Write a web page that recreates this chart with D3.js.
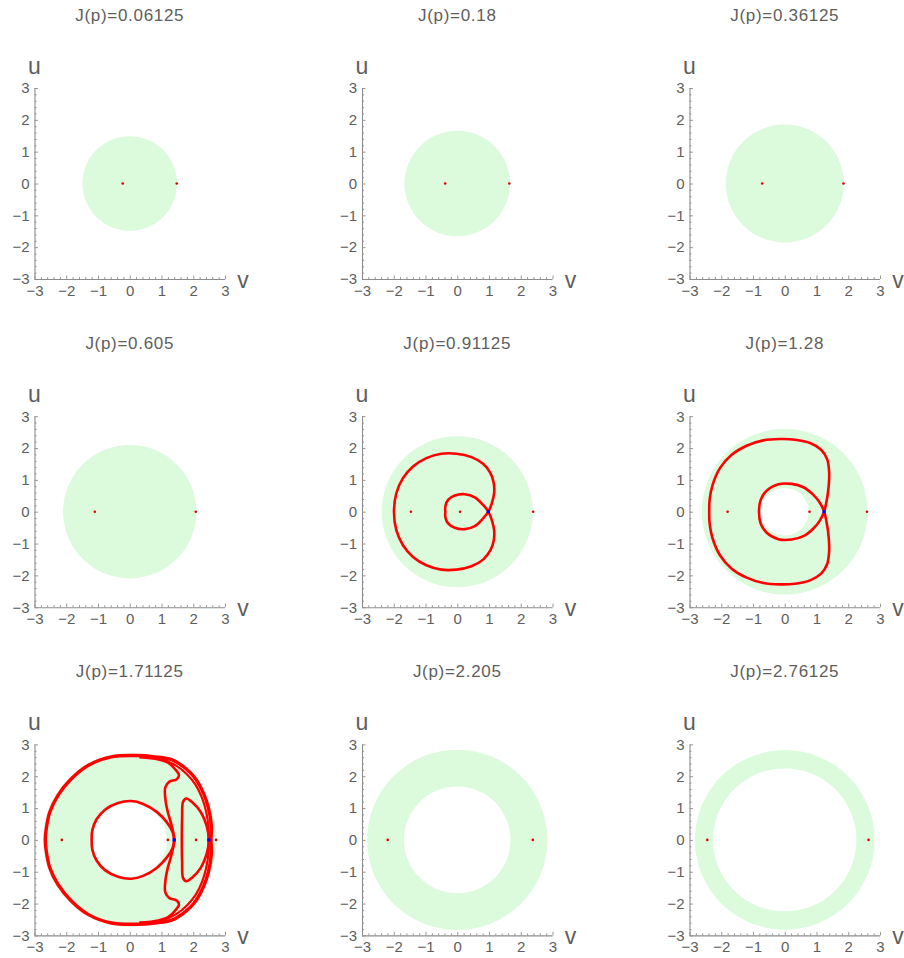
<!DOCTYPE html>
<html>
<head>
<meta charset="utf-8">
<script src="https://cdn.jsdelivr.net/npm/d3@7"></script>
<style>
  html, body { margin: 0; padding: 0; background: #fff; }
  svg { display: block; }
  .tick text { font-family: "Liberation Sans", Arial, sans-serif; font-size: 15px; fill: #5e5e5e; }
  .title { font-family: "Liberation Sans", Arial, sans-serif; font-size: 17px; fill: #5e5e5e; letter-spacing: 0.7px; }
  .axlab { font-family: "Liberation Sans", Arial, sans-serif; font-size: 23px; fill: #5e5e5e; }
</style>
</head>
<body>
<svg id="chart" width="904" height="958"></svg>
<script>
// J(p) value of each panel, in reading order
const jValues = [0.06125, 0.18, 0.36125, 0.605, 0.91125, 1.28, 1.71125, 2.205, 2.76125];

// allowed region: annulus radii in the (v,u) plane
const outerRadius = [1.49, 1.66, 1.86, 2.10, 2.38, 2.61, 2.74, 2.84, 2.83];
const innerRadius = [0, 0, 0, 0, 0, 0.75, 1.17, 1.68, 2.25];

// equilibrium points on the u = 0 axis
const redPoints = [
  [-0.22, 1.48], [-0.38, 1.64], [-0.71, 1.85],
  [-1.10, 2.08], [-1.46, 0.09, 2.39], [-1.80, 0.78, 2.59],
  [-2.14, 1.20, 2.09, 2.72], [-2.19, 2.38], [-2.44, 2.64]
];
const bluePoints = [[], [], [], [], [0.98], [1.24], [1.40, 2.49], [], []];

// separatrix for J(p)=0.91125: node, outer loop, node, inner loop
const loopJ091 = [
  [0.98, 0],
  [1.088, 0.264], [1.162, 0.58], [1.151, 0.895], [1.046, 1.21], [0.815, 1.505], [0.447, 1.715],
  [-0.026, 1.82], [-0.5, 1.82], [-0.973, 1.683], [-1.393, 1.42], [-1.709, 1.053], [-1.919, 0.58],
  [-1.993, 0],
  [-1.919, -0.58], [-1.709, -1.053], [-1.393, -1.42], [-0.973, -1.683], [-0.5, -1.82], [-0.026, -1.82],
  [0.447, -1.715], [0.815, -1.505], [1.046, -1.21], [1.151, -0.895], [1.162, -0.58], [1.088, -0.264],
  [0.98, 0],
  [0.815, 0.211], [0.552, 0.453], [0.237, 0.548], [-0.079, 0.506], [-0.289, 0.369], [-0.373, 0.18],
  [-0.377, 0],
  [-0.373, -0.18], [-0.289, -0.369], [-0.079, -0.506], [0.237, -0.548], [0.552, -0.453], [0.815, -0.211]
];

// separatrix for J(p)=1.28
const loopJ128 = [
  [1.24, 0],
  [1.334, 0.422], [1.387, 0.842], [1.397, 1.263], [1.334, 1.652], [1.145, 1.946], [0.798, 2.157],
  [0.325, 2.262], [-0.148, 2.283], [-0.674, 2.241], [-1.2, 2.073], [-1.673, 1.789], [-2.041, 1.368],
  [-2.272, 0.842], [-2.367, 0.369],
  [-2.378, 0],
  [-2.367, -0.369], [-2.272, -0.842], [-2.041, -1.368], [-1.673, -1.789], [-1.2, -2.073], [-0.674, -2.241],
  [-0.148, -2.283], [0.325, -2.262], [0.798, -2.157], [1.145, -1.946], [1.334, -1.652], [1.397, -1.263],
  [1.387, -0.842], [1.334, -0.422],
  [1.24, 0],
  [1.114, 0.264], [0.903, 0.527], [0.588, 0.769], [0.22, 0.874], [-0.201, 0.863], [-0.569, 0.663],
  [-0.758, 0.369],
  [-0.811, 0],
  [-0.758, -0.369], [-0.569, -0.663], [-0.201, -0.863], [0.22, -0.874], [0.588, -0.769], [0.903, -0.527],
  [1.114, -0.264]
];

// separatrices for J(p)=1.71125
const outerJ171 = [
  [2.56, 0], [2.57, 0.45], [2.48, 1.0], [2.32, 1.47], [2.06, 1.94], [1.745, 2.26], [1.32, 2.52],
  [0.8, 2.61], [0.2, 2.65], [-0.58, 2.61], [-1.315, 2.34], [-1.84, 1.92], [-2.26, 1.4], [-2.52, 0.87],
  [-2.63, 0.35], [-2.66, 0],
  [-2.63, -0.35], [-2.52, -0.87], [-2.26, -1.4], [-1.84, -1.92], [-1.315, -2.34], [-0.58, -2.61],
  [0.2, -2.65], [0.8, -2.61], [1.32, -2.52], [1.745, -2.26], [2.06, -1.94], [2.32, -1.47], [2.48, -1.0],
  [2.57, -0.45]
];
const wavyJ171 = [
  [0.3, 2.6], [0.9, 2.53], [1.22, 2.42], [1.43, 2.22], [1.55, 2.03], [1.47, 1.9], [1.25, 1.83],
  [1.12, 1.65], [1.12, 1.3], [1.2, 0.87], [1.32, 0.45], [1.4, 0],
  [1.32, -0.45], [1.2, -0.87], [1.12, -1.3], [1.12, -1.65], [1.25, -1.83], [1.47, -1.9], [1.55, -2.03],
  [1.43, -2.22], [1.22, -2.42], [0.9, -2.53], [0.3, -2.6]
];
const bandJ171 = [
  [1.0, 2.55], [1.45, 2.34], [1.8, 2.06], [2.08, 1.72], [2.28, 1.31], [2.41, 0.87], [2.48, 0.42], [2.49, 0],
  [2.48, -0.42], [2.41, -0.87], [2.28, -1.31], [2.08, -1.72], [1.8, -2.06], [1.45, -2.34], [1.0, -2.55]
];
const crescentJ171 = [
  [2.49, 0], [2.42, 0.45], [2.24, 0.87], [1.97, 1.18], [1.78, 1.3], [1.68, 1.2], [1.65, 0.7], [1.64, 0],
  [1.65, -0.7], [1.68, -1.2], [1.78, -1.3], [1.97, -1.18], [2.24, -0.87], [2.42, -0.45]
];
const innerJ171 = [
  [1.4, 0], [1.35, 0.25], [1.17, 0.55], [0.85, 0.88], [0.42, 1.13], [0.05, 1.22], [-0.37, 1.16],
  [-0.78, 0.95], [-1.05, 0.64], [-1.18, 0.3], [-1.2, 0],
  [-1.18, -0.3], [-1.05, -0.64], [-0.78, -0.95], [-0.37, -1.16], [0.05, -1.22], [0.42, -1.13],
  [0.85, -0.88], [1.17, -0.55], [1.35, -0.25]
];

// axis ticks
const majorTicks = [-3, -2, -1, 0, 1, 2, 3];
const minorTicks = d3.range(-30, 31, 2).map(d => d / 10).filter(d => !Number.isInteger(d));

// curves per panel (index into jValues)
const curveSets = {
  4: [{ pts: loopJ091, closed: true, w: 2.6 }],
  5: [{ pts: loopJ128, closed: true, w: 2.6 }],
  6: [
    { pts: outerJ171, closed: true, w: 3.4 },
    { pts: bandJ171, closed: false, w: 2.2 },
    { pts: wavyJ171, closed: false, w: 2.6 },
    { pts: crescentJ171, closed: true, w: 2.6 },
    { pts: innerJ171, closed: true, w: 2.6 }
  ]
};

const svg = d3.select("#chart");
const plotW = 190.5, plotH = 191;
const left0 = 34.5, colStep = 327.5;
const top0 = 88, rowStep = 328.2;

const x = d3.scaleLinear().domain([-3, 3]).range([0, plotW]);
const y = d3.scaleLinear().domain([-3, 3]).range([plotH, 0]);
const fmt = d => (d < 0 ? "\u2212" + Math.abs(d) : String(d));

jValues.forEach((j, i) => {
  const col = i % 3, row = Math.floor(i / 3);
  const g = svg.append("g")
    .attr("transform", `translate(${left0 + col * colStep},${top0 + row * rowStep})`);

  // allowed region
  const rScale = r => x(r) - x(0);
  g.append("path")
    .attr("transform", `translate(${x(0)},${y(0)})`)
    .attr("d", d3.arc()
      .innerRadius(rScale(innerRadius[i]))
      .outerRadius(rScale(outerRadius[i]))
      .startAngle(0).endAngle(2 * Math.PI)())
    .attr("fill", "#dcfadc");

  // curves
  (curveSets[i] || []).forEach(c => {
    const line = d3.line()
      .x(d => x(d[0])).y(d => y(d[1]))
      .curve(c.closed ? d3.curveCatmullRomClosed : d3.curveCatmullRom);
    g.append("path")
      .attr("d", line(c.pts))
      .attr("fill", "none")
      .attr("stroke", "#f00")
      .attr("stroke-width", c.w)
      .attr("stroke-linejoin", "round");
  });

  // points
  g.selectAll(".rp").data(redPoints[i]).join("circle")
    .attr("cx", d => x(d)).attr("cy", y(0)).attr("r", 1.3).attr("fill", "#e00000");
  g.selectAll(".bp").data(bluePoints[i]).join("rect")
    .attr("x", d => x(d) - 1.6).attr("y", y(0) - 1.6)
    .attr("width", 3.2).attr("height", 3.2).attr("fill", "#0000ff");

  // axes
  const axColor = "#8c8c8c";
  const xa = g.append("g").attr("transform", `translate(0,${plotH})`)
    .call(d3.axisBottom(x).tickValues(majorTicks).tickFormat(fmt).tickSize(-3.5).tickPadding(6));
  const xm = g.append("g").attr("transform", `translate(0,${plotH})`)
    .call(d3.axisBottom(x).tickValues(minorTicks).tickFormat("").tickSize(-2).tickSizeOuter(0));
  const ya = g.append("g")
    .call(d3.axisLeft(y).tickValues(majorTicks).tickFormat(fmt).tickSize(-3.5).tickPadding(5));
  const ym = g.append("g")
    .call(d3.axisLeft(y).tickValues(minorTicks).tickFormat("").tickSize(-2).tickSizeOuter(0));
  [xa, xm, ya, ym].forEach(a => {
    a.select(".domain").attr("stroke", axColor).attr("stroke-width", 1.1);
    a.selectAll(".tick line").attr("stroke", axColor).attr("stroke-width", 0.9);
  });
  xm.select(".domain").remove();
  ym.select(".domain").remove();
  xa.select(".domain").attr("d", `M0,0.5H${plotW}`);
  ya.select(".domain").attr("d", `M0.5,${plotH}V0`);

  // axis names
  g.append("text").attr("class", "axlab")
    .attr("x", 0).attr("y", -14).attr("text-anchor", "middle").text("u");
  g.append("text").attr("class", "axlab")
    .attr("x", plotW + 18).attr("y", plotH + 9).attr("text-anchor", "middle").text("v");

  // title
  g.append("text").attr("class", "title")
    .attr("x", x(0)).attr("y", -67).attr("text-anchor", "middle")
    .text("J(p)=" + j);
});
</script>
</body>
</html>
